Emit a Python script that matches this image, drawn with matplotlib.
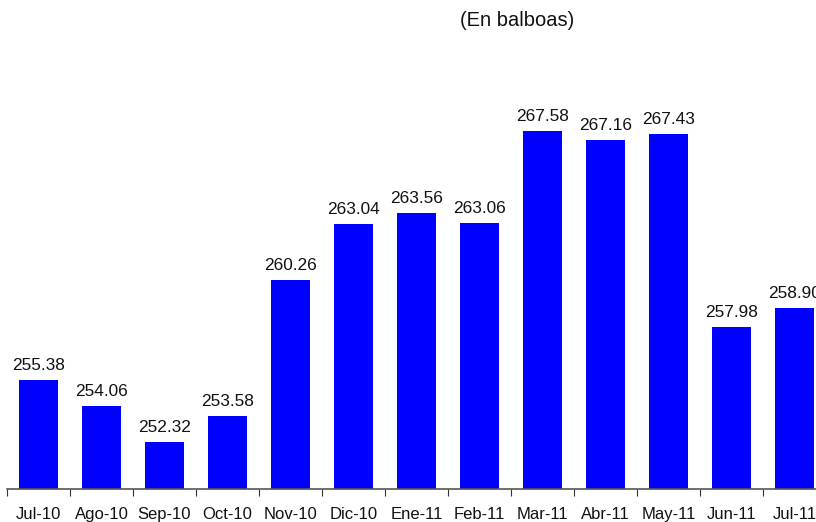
import numpy as np
import matplotlib.pyplot as plt

months = ['Jul-10', 'Ago-10', 'Sep-10', 'Oct-10', 'Nov-10', 'Dic-10', 'Ene-11',
          'Feb-11', 'Mar-11', 'Abr-11', 'May-11', 'Jun-11', 'Jul-11']
values = [255.38, 254.06, 252.32, 253.58, 260.26, 263.04, 263.56,
          263.06, 267.58, 267.16, 267.43, 257.98, 258.90]

plt.rcParams['font.family'] = ['Liberation Sans', 'DejaVu Sans']

W, H = 816, 522
fig = plt.figure(figsize=(W / 100, H / 100), dpi=100)
# axes runs past the right edge, like the cropped original
step = 63.0
ax = fig.add_axes([7 / W, (H - 489) / H, 13 * step / W, 489 / H])

x = np.arange(len(months))
ax.bar(x, values, width=0.62, color='#0000FF', zorder=2)
for xi, v in zip(x, values):
    ax.annotate(f'{v:.2f}', (xi, v), xytext=(0, 5), textcoords='offset points',
                ha='center', va='bottom', fontsize=12.4, color='#111111')

ax.set_xlim(-0.5, len(months) - 0.5)
ax.set_ylim(250, 250 + 489 / 20.35)

for s in ['top', 'right', 'left']:
    ax.spines[s].set_visible(False)
ax.spines['bottom'].set_color('#555555')
ax.spines['bottom'].set_linewidth(1.2)

ax.set_xticks(np.arange(len(months) + 1) - 0.5)
ax.set_xticklabels([])
ax.tick_params(axis='x', which='major', direction='out', length=5, color='#333333')
ax.set_xticks(x, minor=True)
ax.set_xticklabels(months, minor=True, fontsize=12, color='#111111')
ax.tick_params(axis='x', which='minor', length=0, pad=13)
ax.set_yticks([])

fig.text(517 / W, 1 - 20 / H, '(En balboas)', ha='center', va='center',
         fontsize=14.5, color='#111111')

fig.savefig('out.png', dpi=100)
